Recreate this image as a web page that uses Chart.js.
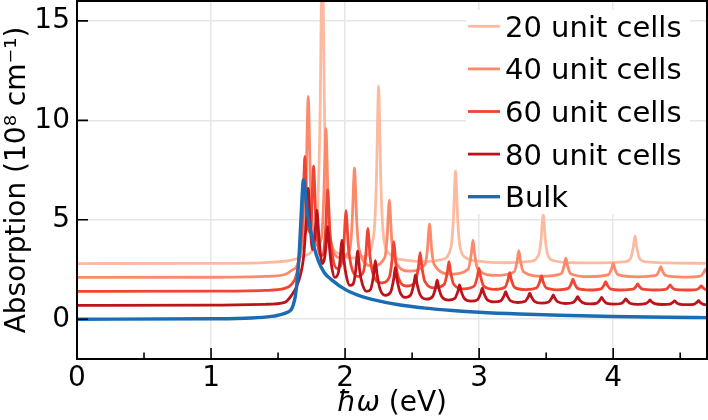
<!DOCTYPE html>
<html>
<head>
<meta charset="utf-8">
<script src="https://cdn.jsdelivr.net/npm/chart.js@4/dist/chart.umd.min.js"></script>
<style>
html,body{margin:0;padding:0;background:#fff;}
canvas{display:block;}
</style>
</head>
<body>
<canvas id="c" width="708" height="420"></canvas>
<script>
// ---- data ----
const seriesLabels = ['20 unit cells', '40 unit cells', '60 unit cells', '80 unit cells', 'Bulk'];
const seriesColors = ['#fcbba1', '#fc8a6a', '#f14432', '#bc141a', '#1a6db5'];
const xTicks = [0, 1, 2, 3, 4];
const xMinorTicks = [0.5, 1.5, 2.5, 3.5, 4.5];
const yTicks = [0, 5, 10, 15];
const xLabel = ['ħω', ' (eV)'];
const yLabel = 'Absorption (10⁸ cm⁻¹)';

const s20 = [[0,2.8],[1.0,2.81],[1.4,2.85],[1.6,2.97],[1.7,3.2],[1.77,3.75],[1.795,5.48],[1.815,11.0],[1.823,16.1],[1.83,19],[1.837,16.1],[1.845,11.0],[1.865,5.48],[1.9,3.75],[1.97,3.25],[2.05,3.07],[2.15,3.18],[2.215,4.31],[2.235,7.34],[2.243,10.14],[2.25,11.72],[2.257,10.14],[2.265,7.34],[2.285,4.31],[2.33,3.3],[2.45,2.97],[2.6,2.9],[2.72,3.0],[2.789,3.59],[2.809,5.17],[2.817,6.63],[2.824,7.45],[2.831,6.63],[2.839,5.17],[2.859,3.59],[2.9,3.1],[3.0,2.92],[3.2,2.84],[3.38,2.91],[3.443,3.22],[3.463,4.06],[3.471,4.84],[3.478,5.28],[3.485,4.84],[3.493,4.06],[3.513,3.22],[3.56,2.94],[3.7,2.84],[3.9,2.83],[4.08,2.88],[4.128,3.04],[4.151,3.66],[4.163,4.19],[4.175,3.66],[4.198,3.04],[4.25,2.88],[4.4,2.83],[4.7,2.81]];

const s40 = [[0,2.1],[1.0,2.11],[1.4,2.15],[1.55,2.25],[1.6,2.45],[1.65,2.85],[1.69,4.44],[1.71,7.2],[1.718,9.76],[1.725,11.2],[1.732,9.76],[1.74,7.2],[1.76,4.44],[1.79,3.7],[1.822,4.02],[1.842,6.3],[1.85,8.41],[1.857,9.6],[1.864,8.41],[1.872,6.3],[1.892,4.02],[1.96,3.1],[2.035,3.5],[2.055,5.18],[2.063,6.73],[2.07,7.6],[2.077,6.73],[2.085,5.18],[2.105,3.5],[2.2,2.68],[2.295,3.08],[2.315,4.28],[2.323,5.38],[2.33,6.0],[2.337,5.38],[2.345,4.28],[2.365,3.08],[2.48,2.42],[2.595,2.75],[2.615,3.58],[2.623,4.36],[2.63,4.79],[2.637,4.36],[2.645,3.58],[2.665,2.75],[2.79,2.27],[2.919,2.52],[2.942,3.31],[2.954,3.98],[2.966,3.31],[2.989,2.52],[3.125,2.2],[3.261,2.38],[3.284,2.95],[3.296,3.45],[3.308,2.95],[3.331,2.38],[3.47,2.16],[3.612,2.29],[3.635,2.71],[3.647,3.07],[3.659,2.71],[3.682,2.29],[3.82,2.14],[3.965,2.24],[3.988,2.54],[4.0,2.81],[4.012,2.54],[4.035,2.24],[4.18,2.13],[4.32,2.2],[4.343,2.44],[4.355,2.64],[4.367,2.44],[4.39,2.2],[4.52,2.12],[4.652,2.17],[4.675,2.35],[4.687,2.51],[4.699,2.35],[4.722,2.17]];

const s60 = [[0,1.4],[1.0,1.41],[1.4,1.45],[1.55,1.55],[1.6,1.75],[1.64,2.3],[1.665,3.46],[1.685,5.39],[1.693,7.17],[1.70,8.17],[1.707,7.17],[1.715,5.39],[1.7325,4.4],[1.75,5.25],[1.758,6.82],[1.765,7.7],[1.772,6.82],[1.78,5.25],[1.8,3.6],[1.8175,3.2],[1.835,3.25],[1.855,4.55],[1.863,5.8],[1.87,6.5],[1.877,5.8],[1.885,4.55],[1.905,3.2],[1.94,2.55],[1.972,2.79],[1.992,3.88],[2.0,4.89],[2.007,5.46],[2.014,4.89],[2.022,3.88],[2.042,2.79],[2.09,2.15],[2.135,2.36],[2.155,3.26],[2.163,4.1],[2.17,4.57],[2.177,4.1],[2.185,3.26],[2.205,2.36],[2.27,1.83],[2.328,2.08],[2.348,2.83],[2.356,3.51],[2.363,3.9],[2.37,3.51],[2.378,2.83],[2.398,2.08],[2.46,1.67],[2.525,1.9],[2.548,2.68],[2.56,3.35],[2.572,2.68],[2.595,1.9],[2.668,1.58],[2.74,1.76],[2.763,2.37],[2.775,2.9],[2.787,2.37],[2.81,1.76],[2.887,1.53],[2.964,1.67],[2.987,2.15],[2.999,2.56],[3.011,2.15],[3.034,1.67],[3.113,1.5],[3.193,1.61],[3.216,2.0],[3.228,2.34],[3.24,2.0],[3.263,1.61],[3.346,1.49],[3.43,1.58],[3.453,1.9],[3.465,2.18],[3.477,1.9],[3.5,1.58],[3.582,1.48],[3.665,1.55],[3.688,1.8],[3.70,2.01],[3.712,1.8],[3.735,1.55],[3.822,1.47],[3.909,1.53],[3.932,1.72],[3.944,1.89],[3.956,1.72],[3.979,1.53],[4.063,1.47],[4.148,1.51],[4.171,1.65],[4.183,1.77],[4.195,1.65],[4.218,1.51],[4.304,1.47],[4.39,1.5],[4.413,1.62],[4.425,1.72],[4.437,1.62],[4.46,1.5],[4.541,1.47],[4.622,1.49],[4.645,1.59],[4.657,1.67],[4.669,1.59],[4.692,1.49],[4.72,1.47]];

const s80 = [[0,0.7],[1.0,0.71],[1.4,0.75],[1.55,0.85],[1.6,1.2],[1.65,1.85],[1.69,3.1],[1.703,4.2],[1.71,4.8],[1.718,5.75],[1.725,6.58],[1.732,5.75],[1.74,4.7],[1.7575,3.5],[1.772,4.0],[1.783,4.95],[1.79,5.49],[1.797,4.95],[1.805,4.1],[1.83,2.8],[1.845,3.0],[1.855,3.5],[1.863,4.2],[1.87,4.65],[1.877,4.2],[1.885,3.5],[1.9,2.65],[1.923,2.1],[1.95,2.35],[1.962,2.94],[1.97,3.6],[1.977,3.98],[1.984,3.6],[1.992,2.94],[2.01,2.15],[2.035,1.7],[2.059,1.76],[2.079,2.44],[2.087,3.07],[2.094,3.43],[2.101,3.07],[2.109,2.44],[2.129,1.76],[2.16,1.4],[2.191,1.51],[2.214,2.28],[2.226,2.94],[2.238,2.28],[2.261,1.51],[2.30,1.2],[2.34,1.36],[2.363,2.03],[2.375,2.6],[2.387,2.03],[2.41,1.36],[2.45,1.1],[2.49,1.23],[2.513,1.77],[2.525,2.23],[2.537,1.77],[2.56,1.23],[2.606,1.01],[2.652,1.13],[2.675,1.58],[2.687,1.97],[2.699,1.58],[2.722,1.13],[2.77,0.96],[2.819,1.05],[2.842,1.41],[2.854,1.72],[2.866,1.41],[2.889,1.05],[2.94,0.91],[2.989,0.99],[3.012,1.3],[3.024,1.56],[3.036,1.3],[3.059,0.99],[3.111,0.87],[3.163,0.93],[3.186,1.18],[3.198,1.39],[3.21,1.18],[3.233,0.93],[3.288,0.84],[3.343,0.9],[3.366,1.12],[3.378,1.31],[3.39,1.12],[3.413,0.9],[3.465,0.81],[3.518,0.87],[3.541,1.06],[3.553,1.22],[3.565,1.06],[3.588,0.87],[3.644,0.79],[3.7,0.84],[3.723,1.0],[3.735,1.14],[3.747,1.0],[3.77,0.84],[3.825,0.77],[3.879,0.81],[3.902,0.97],[3.914,1.1],[3.926,0.97],[3.949,0.81],[4.004,0.76],[4.059,0.79],[4.082,0.92],[4.094,1.02],[4.106,0.92],[4.129,0.79],[4.185,0.75],[4.24,0.78],[4.263,0.88],[4.275,0.97],[4.287,0.88],[4.31,0.78],[4.367,0.74],[4.423,0.76],[4.446,0.85],[4.458,0.92],[4.47,0.85],[4.493,0.76],[4.548,0.73],[4.602,0.75],[4.625,0.85],[4.637,0.93],[4.649,0.85],[4.672,0.75],[4.72,0.73]];

const bulk = [[0,0],[1.0,0.02],[1.3,0.06],[1.45,0.14],[1.5,0.2],[1.56,0.32],[1.6,0.5],[1.615,0.75],[1.63,1.2],[1.645,2.1],[1.66,3.6],[1.672,5.2],[1.682,6.5],[1.689,7.0],[1.697,6.8],[1.707,6.1],[1.72,5.3],[1.745,4.4],[1.77,3.6],[1.8,2.95],[1.844,2.35],[1.9,1.98],[2.0,1.5],[2.1,1.2],[2.2,1.0],[2.4,0.73],[2.6,0.56],[2.8,0.44],[3.0,0.35],[3.3,0.26],[3.6,0.2],[4.0,0.14],[4.4,0.1],[4.7,0.08]];

const allSeries = [s20, s40, s60, s80, bulk];

// ---- chart ----
const FONT = 'DejaVu Sans';
const toXY = arr => arr.map(p => ({x: p[0], y: p[1]}));
const lineW = i => (i === 4 ? 3.4 : 2.8);

const datasets = allSeries.map((s, i) => ({
  label: seriesLabels[i],
  data: toXY(s),
  borderColor: seriesColors[i],
  backgroundColor: seriesColors[i],
  borderWidth: lineW(i),
  pointRadius: 0,
  fill: false,
  cubicInterpolationMode: 'monotone',
  borderJoinStyle: 'round',
  borderCapStyle: 'round',
  clip: 0,
  order: 5 - i
}));

const framePlugin = {
  id: 'frame',
  afterDatasetsDraw(chart) {
    const ctx = chart.ctx;
    ctx.save();
    ctx.fillStyle = '#ffffff';
    ctx.fillRect(466, 10, 224, 204);
    ctx.font = '29px "' + FONT + '"';
    ctx.textBaseline = 'alphabetic';
    ctx.textAlign = 'left';
    seriesLabels.forEach((lab, i) => {
      const base = 36.8 + i * 42.6;
      ctx.strokeStyle = seriesColors[i];
      ctx.lineWidth = lineW(i);
      ctx.beginPath();
      ctx.moveTo(468, base - 10.5);
      ctx.lineTo(500, base - 10.5);
      ctx.stroke();
      ctx.fillStyle = '#000';
      ctx.fillText(lab, 505, base);
    });
    ctx.restore();
  },
  afterDraw(chart) {
    const ctx = chart.ctx;
    const a = chart.chartArea;
    const xs = chart.scales.x, ys = chart.scales.y;
    ctx.save();
    ctx.strokeStyle = '#000';
    ctx.lineWidth = 1.6;
    ctx.beginPath();
    xTicks.forEach(v => { const px = xs.getPixelForValue(v); ctx.moveTo(px, a.bottom); ctx.lineTo(px, a.bottom - 11); });
    xMinorTicks.forEach(v => { const px = xs.getPixelForValue(v); ctx.moveTo(px, a.bottom); ctx.lineTo(px, a.bottom - 6.5); });
    yTicks.forEach(v => { const py = ys.getPixelForValue(v); ctx.moveTo(a.left, py); ctx.lineTo(a.left + 11, py); });
    ctx.stroke();
    ctx.lineWidth = 2;
    ctx.strokeRect(a.left, a.top, a.right - a.left, a.bottom - a.top);
    ctx.fillStyle = '#000';
    ctx.textBaseline = 'alphabetic';
    ctx.textAlign = 'left';
    const fi = 'italic 28px "' + FONT + '"', fn = '28px "' + FONT + '"';
    ctx.font = fi; const w1 = ctx.measureText(xLabel[0]).width;
    ctx.font = fn; const w2 = ctx.measureText(xLabel[1]).width;
    const cx = (a.left + a.right) / 2;
    const x0 = cx - (w1 + w2) / 2;
    ctx.font = fi; ctx.fillText(xLabel[0], x0, 411);
    ctx.font = fn; ctx.fillText(xLabel[1], x0 + w1, 411);
    ctx.restore();
  }
};

new Chart(document.getElementById('c'), {
  type: 'line',
  data: { datasets },
  options: {
    responsive: false,
    animation: false,
    devicePixelRatio: 1,
    layout: { padding: { top: 1, right: 1, left: 0, bottom: 0 } },
    plugins: { legend: { display: false }, tooltip: { enabled: false } },
    scales: {
      x: {
        type: 'linear', min: 0, max: 4.7,
        afterBuildTicks: s => { s.ticks = xTicks.map(v => ({ value: v })); },
        afterFit: s => { s.height = 61; s.paddingLeft = 0; s.paddingRight = 0; },
        grid: { color: '#e6e6e6', lineWidth: 1.5, drawTicks: false },
        border: { display: false },
        ticks: { font: { family: FONT, size: 28 }, color: '#000', padding: 3, maxRotation: 0, autoSkip: false }
      },
      y: {
        type: 'linear', min: -2, max: 16,
        afterBuildTicks: s => { s.ticks = yTicks.map(v => ({ value: v })); },
        afterFit: s => { s.width = 77; s.paddingTop = 0; s.paddingBottom = 0; },
        grid: { color: '#e6e6e6', lineWidth: 1.5, drawTicks: false },
        border: { display: false },
        ticks: { font: { family: FONT, size: 28 }, color: '#000', padding: 7 },
        title: { display: true, text: yLabel, color: '#000', font: { family: FONT, size: 28 }, padding: { top: 1, bottom: 0 } }
      }
    }
  },
  plugins: [framePlugin]
});
</script>
</body>
</html>
